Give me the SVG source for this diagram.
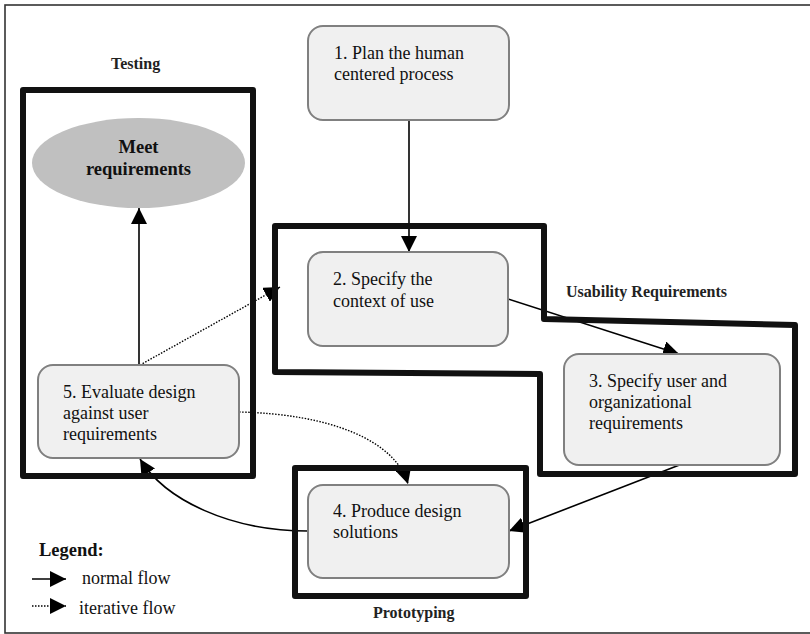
<svg xmlns="http://www.w3.org/2000/svg" width="810" height="634" viewBox="0 0 810 634">
  <style>
    .frame { fill: none; stroke: #333; stroke-width: 1.6; }
    .region { fill: none; stroke: #111; stroke-width: 6; stroke-linejoin: round; }
    .box { fill: #f0f0f0; stroke: #808080; stroke-width: 2; }
    .goal { fill: #c0c0c0; stroke: none; }
    .txt { font-family: "Liberation Serif", "Times New Roman", serif; font-size: 18px; fill: #111; }
    .lbl { font-family: "Liberation Serif", "Times New Roman", serif; font-size: 16px; font-weight: bold; fill: #222; }
    .bold18 { font-family: "Liberation Serif", "Times New Roman", serif; font-size: 18.5px; font-weight: bold; fill: #111; }
    .flow { fill: none; stroke: #000; stroke-width: 1.6; }
    .iter { fill: none; stroke: #000; stroke-width: 1.4; stroke-dasharray: 1.5 1.5; }
  </style>
  <defs>
    <marker id="head" markerUnits="userSpaceOnUse" markerWidth="16" markerHeight="16" viewBox="0 0 16 16" refX="16" refY="8" orient="auto">
      <path d="M0,0 L16,8 L0,16 Z" fill="#000"/>
    </marker>
  </defs>

  <rect width="810" height="634" fill="#fff"/>
  <rect class="frame" x="5" y="5" width="812" height="628"/>

  <!-- connectors -->
  <g id="connectors">
    <path class="flow" d="M409,120 L409,252" marker-end="url(#head)"/>
    <path class="flow" d="M508,299 L679,354" marker-end="url(#head)"/>
    <path class="flow" d="M682,464 L509,531" marker-end="url(#head)"/>
    <path class="flow" d="M308,531 C230,531 165,500 140,459" marker-end="url(#head)"/>
    <path class="flow" d="M139,365 L139,208" marker-end="url(#head)"/>
    <path class="iter" d="M140,365 L280,287" marker-end="url(#head)"/>
    <path class="iter" d="M239,412 C330,414 395,440 408,484" marker-end="url(#head)"/>
  </g>

  <!-- phase regions -->
  <g id="region-testing">
    <rect class="region" x="23" y="90" width="230" height="386"/>
    <text class="lbl" x="111" y="69">Testing</text>
  </g>
  <g id="region-usability">
    <path class="region" d="M275,226 L544,226 L544,319 L795,325 L795,474 L540,474 L540,374 L275,372 Z"/>
    <text class="lbl" x="566" y="297">Usability Requirements</text>
  </g>
  <g id="region-prototyping">
    <rect class="region" x="295" y="468" width="231" height="128"/>
    <text class="lbl" x="373" y="618">Prototyping</text>
  </g>

  <!-- process steps -->
  <g id="node-meet">
    <ellipse class="goal" cx="138.5" cy="163" rx="106.5" ry="45"/>
    <text class="bold18" x="138.5" y="153" text-anchor="middle">Meet</text>
    <text class="bold18" x="138.5" y="175" text-anchor="middle">requirements</text>
  </g>
  <g id="node-1">
    <rect class="box" x="308" y="26" width="201" height="94" rx="15"/>
    <text class="txt" x="334" y="59">1. Plan the human</text>
    <text class="txt" x="334" y="80">centered process</text>
  </g>
  <g id="node-2">
    <rect class="box" x="308" y="252" width="200" height="94" rx="15"/>
    <text class="txt" x="333" y="285">2. Specify the</text>
    <text class="txt" x="333" y="307">context of use</text>
  </g>
  <g id="node-3">
    <rect class="box" x="564" y="354" width="216" height="111" rx="15"/>
    <text class="txt" x="589" y="387">3. Specify user and</text>
    <text class="txt" x="589" y="408">organizational</text>
    <text class="txt" x="589" y="429">requirements</text>
  </g>
  <g id="node-4">
    <rect class="box" x="308" y="485" width="201" height="93" rx="15"/>
    <text class="txt" x="333" y="517">4. Produce design</text>
    <text class="txt" x="333" y="538">solutions</text>
  </g>
  <g id="node-5">
    <rect class="box" x="38" y="365" width="201" height="93" rx="15"/>
    <text class="txt" x="63" y="398">5. Evaluate design</text>
    <text class="txt" x="63" y="419">against user</text>
    <text class="txt" x="63" y="440">requirements</text>
  </g>

  <!-- legend -->
  <g id="legend">
    <text class="bold18" x="39" y="556">Legend:</text>
    <path class="flow" d="M32,579 L66,579" marker-end="url(#head)"/>
    <text class="txt" x="82" y="584">normal flow</text>
    <path class="iter" d="M32,606 L66,606" marker-end="url(#head)"/>
    <text class="txt" x="79" y="614">iterative flow</text>
  </g>
</svg>
